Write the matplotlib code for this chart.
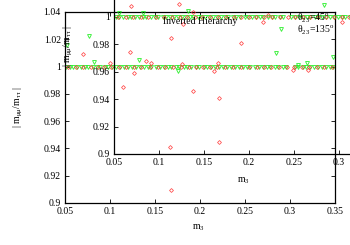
import matplotlib
matplotlib.use('Agg')
import matplotlib.pyplot as plt
from matplotlib.ticker import FuncFormatter

plt.rcParams['font.family'] = ['Liberation Serif', 'DejaVu Serif']
plt.rcParams['mathtext.fontset'] = 'stix'

# main panel: band at 1 plus scattered points
main_band_green_x = [0.051, 0.055, 0.059, 0.063, 0.068, 0.072, 0.076, 0.081, 0.085, 0.089,
                     0.094, 0.098, 0.102, 0.107, 0.111, 0.116, 0.120, 0.124, 0.129, 0.133,
                     0.138, 0.142, 0.146, 0.151, 0.155, 0.160, 0.164, 0.168, 0.173, 0.177,
                     0.182, 0.186, 0.190, 0.195, 0.199, 0.204, 0.208, 0.212, 0.217, 0.221,
                     0.226, 0.230, 0.234, 0.239, 0.243, 0.248, 0.252, 0.256, 0.261, 0.265,
                     0.270, 0.274, 0.278, 0.283, 0.287, 0.292, 0.296, 0.305, 0.309,
                     0.314, 0.318, 0.322, 0.327, 0.331, 0.336, 0.340, 0.344, 0.348]
main_band_red_x = [0.053, 0.062, 0.070, 0.079, 0.087, 0.093, 0.101, 0.110, 0.118, 0.127,
                   0.134, 0.144, 0.153, 0.161, 0.170, 0.179, 0.188, 0.196, 0.203, 0.211,
                   0.219, 0.228, 0.237, 0.245, 0.254, 0.263, 0.271, 0.279, 0.288, 0.297,
                   0.304, 0.313, 0.321, 0.330, 0.338, 0.347]
band_y = 1.0

main_red_x = [0.070, 0.100, 0.1222, 0.140, 0.1456, 0.1267, 0.1144, 0.1678, 0.2456, 0.220,
              0.2156, 0.180, 0.3033, 0.320, 0.1922, 0.1667, 0.1678, 0.2211, 0.2211]
main_red_y = [1.0092, 1.0026, 1.0107, 1.0041, 1.0026, 0.9953, 0.985, 1.0209, 1.0173, 1.0026,
              0.9967, 1.0019, 0.9975, 0.9975, 0.9821, 0.941, 0.9095, 0.977, 0.9447]
main_green_x = [0.0767, 0.0522, 0.0822, 0.1322, 0.1756, 0.2844, 0.3189, 0.3478, 0.3089]
main_green_y = [1.0224, 1.0158, 1.0033, 1.0048, 0.9967, 1.010, 1.0026, 1.007, 1.0011]

# inset panel
inset_band_green_x = [0.052, 0.056, 0.060, 0.065, 0.069, 0.073, 0.078, 0.082, 0.086, 0.091,
                      0.095, 0.099, 0.104, 0.108, 0.112, 0.117, 0.121, 0.125, 0.130, 0.134,
                      0.138, 0.143, 0.147, 0.151, 0.156, 0.160, 0.164, 0.169, 0.173, 0.177,
                      0.182, 0.186, 0.190, 0.195, 0.199, 0.203, 0.208, 0.212, 0.216, 0.221,
                      0.225, 0.229, 0.234, 0.238, 0.247, 0.251, 0.255, 0.260, 0.264,
                      0.268, 0.273, 0.277, 0.281, 0.286, 0.290, 0.294, 0.299, 0.303, 0.307,
                      0.312, 0.316, 0.320, 0.325, 0.329, 0.334]
inset_band_red_x = [0.054, 0.063, 0.071, 0.080, 0.088, 0.097, 0.106, 0.114, 0.123, 0.131,
                    0.140, 0.148, 0.157, 0.166, 0.174, 0.183, 0.191, 0.200, 0.208, 0.217,
                    0.226, 0.234, 0.243, 0.251, 0.260, 0.268, 0.277, 0.286, 0.294, 0.303,
                    0.311, 0.320, 0.328]
inset_red_x = [0.0689, 0.1222, 0.1378, 0.2211, 0.3033, 0.2156, 0.1267]
inset_red_y = [1.008, 1.0095, 1.0036, 1.0015, 0.9964, 0.9964, 0.9949]
inset_green_x = [0.1322, 0.2833, 0.0556, 0.0822, 0.2356]
inset_green_y = [1.0044, 1.0088, 1.0029, 1.0029, 0.9912]

x_ticks = [0.05, 0.1, 0.15, 0.2, 0.25, 0.3, 0.35]
y_ticks = [0.9, 0.92, 0.94, 0.96, 0.98, 1.0, 1.02, 1.04]

W, H = 350, 245
fig = plt.figure(figsize=(3.5, 2.45), dpi=100)


def px_rect(x0, y0, x1, y1):
    return [x0 / W, 1 - y1 / H, (x1 - x0) / W, (y1 - y0) / H]


fmt = FuncFormatter(lambda v, p: '%g' % round(v, 4))
# inset: only labels that fall inside the picture
xfmt_in = FuncFormatter(lambda v, p: '' if v > 0.31 else '%g' % round(v, 4))
yfmt_in = FuncFormatter(lambda v, p: '' if v > 1.001 else '%g' % round(v, 4))

red_kw = dict(linestyle='none', marker='D', markersize=2.0, markerfacecolor='none',
              markeredgecolor='#ff2a2a', markeredgewidth=0.55, alpha=0.85)
green_kw = dict(linestyle='none', marker='v', markersize=2.8, markerfacecolor='none',
                markeredgecolor='#22ee22', markeredgewidth=0.65, alpha=0.9)


def style(ax, xf, yf):
    ax.set_xlim(0.05, 0.35)
    ax.set_ylim(0.9, 1.04)
    ax.set_xticks(x_ticks)
    ax.set_yticks(y_ticks)
    ax.xaxis.set_major_formatter(xf)
    ax.yaxis.set_major_formatter(yf)
    ax.tick_params(direction='in', length=3, width=0.6, labelsize=7, pad=3,
                   top=True, right=True)
    for s in ax.spines.values():
        s.set_linewidth(0.9)


ax = fig.add_axes(px_rect(65, 12, 335, 203))
style(ax, fmt, fmt)
ax.plot(main_band_green_x, [band_y] * len(main_band_green_x), **green_kw)
ax.plot(main_band_red_x, [band_y] * len(main_band_red_x), **red_kw)
ax.plot(main_green_x, main_green_y, **green_kw)
ax.plot(main_red_x, main_red_y, **red_kw)

axi = fig.add_axes(px_rect(114, -38, 384, 154))
axi.patch.set_alpha(0)
style(axi, xfmt_in, yfmt_in)
axi.plot(inset_band_green_x, [band_y] * len(inset_band_green_x), **green_kw)
axi.plot(inset_band_red_x, [band_y] * len(inset_band_red_x), **red_kw)
axi.plot(inset_green_x, inset_green_y, **green_kw)
axi.plot(inset_red_x, inset_red_y, **red_kw)

lab = r'| m$_{\mathregular{μμ}}$/m$_{\mathregular{ττ}}$ |'
fig.text(18 / W, 1 - 107 / H, lab, rotation=90, ha='center', va='center', fontsize=7)
fig.text(68 / W, 1 - 46 / H, lab, rotation=90, ha='center', va='center', fontsize=7)
fig.text(198 / W, 1 - 228 / H, r'm$_{\mathregular{3}}$', ha='center', va='center', fontsize=7)
fig.text(243 / W, 1 - 181 / H, r'm$_{\mathregular{3}}$', ha='center', va='center', fontsize=7)
fig.text(200 / W, 1 - 22 / H, 'Inverted Hierarchy', ha='center', va='center', fontsize=7)
fig.text(297 / W, 1 - 18 / H, r'θ$_{\mathregular{23}}$=45$^{\mathregular{o}}$',
         ha='left', va='center', fontsize=7)
fig.text(297 / W, 1 - 29 / H, r'θ$_{\mathregular{23}}$=135$^{\mathregular{o}}$',
         ha='left', va='center', fontsize=7)

fig.savefig('out.png', dpi=100)
